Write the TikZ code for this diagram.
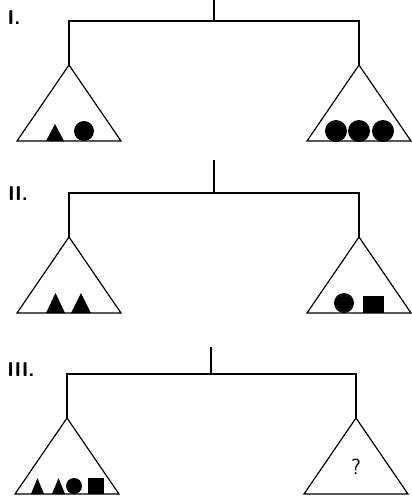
\documentclass[tikz,border=0pt]{standalone}
\begin{document}
\begin{tikzpicture}[x=1pt, y=-1pt, line width=1.2pt, line join=miter,
  numlabel/.style={font=\fontsize{20}{20}\selectfont\sffamily\bfseries, inner sep=0pt},
  pan/.style={draw, line width=1.2pt}]
\useasboundingbox (0,0) rectangle (412,504);
% three balances: panel / pivot top / beam / pivot x / left x / right x
\foreach \n/\t/\b/\px/\lx/\rx in {1/0/21/214/69/359, 2/160/193/214/69/359, 3/347/374/211/67/356}{
  \path (\px,\t) coordinate (T\n)
    (\px,\b) coordinate (P\n)
    (\lx,\b) coordinate (L\n)
    (\rx,\b) coordinate (R\n)
    (\lx,\b+44) coordinate (LA\n)
    (\rx,\b+44) coordinate (RA\n);
  \draw (T\n) -- (P\n);
  \draw (LA\n) -- (L\n) -- (R\n) -- (RA\n);
  \draw[pan] (LA\n) -- ++(-52,76) -- ++(104,0) -- cycle;
  \draw[pan] (RA\n) -- ++(-52,76) -- ++(104,0) -- cycle;
}
\node[numlabel] (lab1) at (14,18) {I.};
\node[numlabel] (lab2) at (18,194) {II.};
\node[numlabel] (lab3) at (21,370) {III.};
% weights
\fill (46,141) -- (64,141) -- (55,124) -- cycle;
\fill (84,131) circle (10);
\foreach \x in {336,359,383}
  \fill (\x,131) circle (11);
\fill (46,313) -- (65,313) -- (55.5,293) -- cycle;
\fill (71,313) -- (91,313) -- (81,293) -- cycle;
\fill (344,303) circle (10);
\fill (363,296) rectangle (384,313);
\fill (31,494) -- (44,494) -- (37.5,478) -- cycle;
\fill (52,494) -- (65,494) -- (58.5,478) -- cycle;
\fill (74,486) circle (8);
\fill (88,478) rectangle (104,494);
\node[font=\fontsize{22}{22}\selectfont\sffamily, inner sep=0pt] (ask) at (356,467) {?};
\end{tikzpicture}
\end{document}
